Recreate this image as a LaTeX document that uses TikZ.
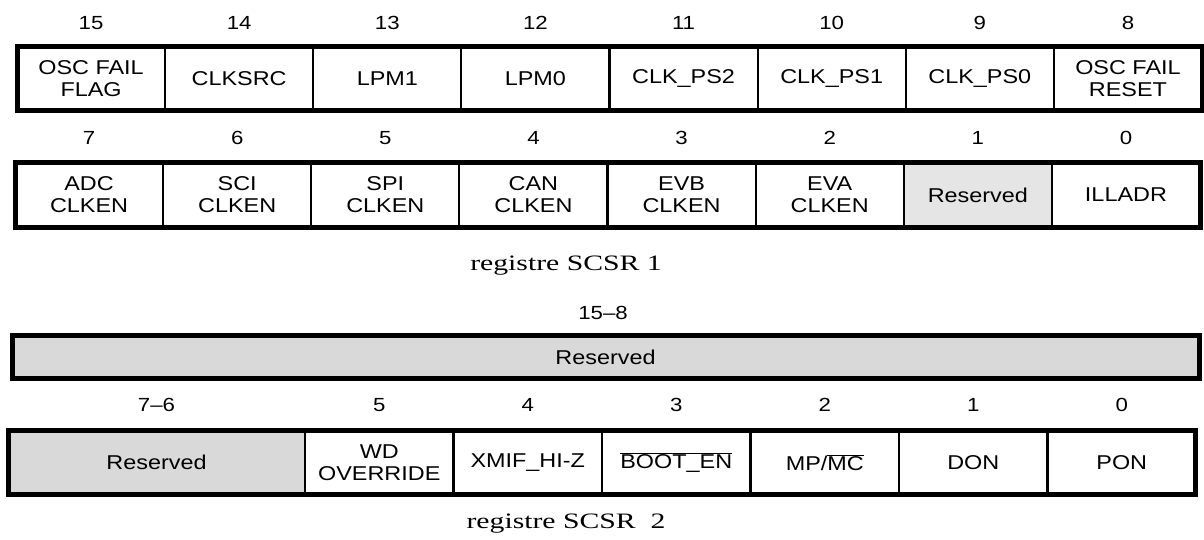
\documentclass[tikz,border=0pt]{standalone}
\usepackage{fontspec}
\setmainfont{Liberation Sans}[FakeStretch=1.17]
\newfontfamily\capfont{Liberation Serif}[FakeStretch=1.35]
\definecolor{resgray}{gray}{0.85}
\definecolor{reslight}{gray}{0.9}

\begin{document}
\begin{tikzpicture}[x=1pt,y=-1pt,
  cell/.style={draw,line width=2.2pt,inner sep=0pt,outer sep=0pt,align=center,
    minimum height=64pt,minimum width=148.125pt,font=\fontsize{20}{22}\selectfont},
  bitnum/.style={inner sep=0pt,font=\fontsize{19}{19}\selectfont},
  frame/.style={draw,line width=5pt},
  caption/.style={inner sep=0pt,font=\capfont\fontsize{22}{22}\selectfont}]
\useasboundingbox (0,0) rectangle (1204,539);
% SCSR1, bits 15-8
\foreach \txt [count=\i] in {OSC FAIL\\FLAG,CLKSRC,LPM1,LPM0,CLK\_PS2,CLK\_PS1,CLK\_PS0,OSC FAIL\\RESET}{
  \pgfmathtruncatemacro\bit{16-\i}
  \node[cell] (ua\i) at ({17+(\i-0.5)*148.125},78.5) {\txt};
  \node[bitnum] (na\i) at ({17+(\i-0.5)*148.125},23) {\bit};
}
\draw[frame] (ua1.north west) rectangle (ua8.south east);
% SCSR1, bits 7-0
\foreach \txt/\clr [count=\i] in {ADC\\CLKEN/white,SCI\\CLKEN/white,SPI\\CLKEN/white,CAN\\CLKEN/white,
  EVB\\CLKEN/white,EVA\\CLKEN/white,Reserved/reslight,ILLADR/white}{
  \pgfmathtruncatemacro\bit{8-\i}
  \node[cell,fill=\clr,minimum height=65pt] (la\i) at ({15+(\i-0.5)*148.125},195) {\txt};
  \node[bitnum] (ma\i) at ({15+(\i-0.5)*148.125},138) {\bit};
}
\draw[frame] (la1.north west) rectangle (la8.south east);
\node[caption] (cap1) at (566,266) {registre SCSR 1};
% SCSR2, bits 15-8
\node[frame,fill=resgray,inner sep=0pt,minimum width=1187pt,minimum height=43pt,
  font=\fontsize{20}{22}\selectfont] (hb) at (605.5,357) {Reserved};
\node[bitnum] (nb) at (603,313) {15--8};
% SCSR2, bits 7-0
\node[cell,fill=resgray,minimum width=297pt] (lb0) at (156.5,462.5) {Reserved};
\node[bitnum] (mb0) at (156.5,405) {7--6};
\foreach \txt [count=\i] in {WD\\OVERRIDE,XMIF\_HI-Z,$\overline{\mbox{BOOT\_EN}}$,MP/$\overline{\mbox{MC}}$,DON,PON}{
  \pgfmathtruncatemacro\bit{6-\i}
  \node[cell] (lb\i) at ({8+(\i+1.5)*148.5},462.5) {\txt};
  \node[bitnum] (mb\i) at ({8+(\i+1.5)*148.5},405) {\bit};
}
\draw[frame] (lb0.north west) rectangle (lb6.south east);
\node[caption] (cap2) at (566,524) {registre SCSR\ \ 2};
\end{tikzpicture}
\end{document}
